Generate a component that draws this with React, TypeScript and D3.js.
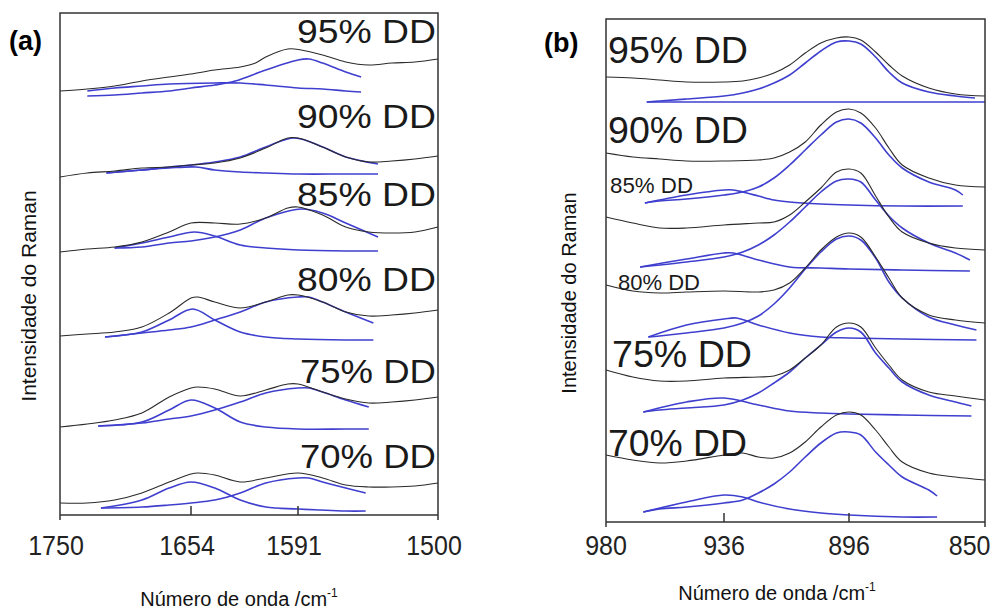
import React from "react";
import * as d3 from "d3";

type Pt = [number, number];

// ---------- tick values and labels ----------
const aTickValues = [1750, 1654, 1591, 1500];
const bTickValues = [980, 936, 896, 850];
const seriesNames = ["95% DD", "90% DD", "85% DD", "80% DD", "75% DD", "70% DD"];
const xTitle = "Número de onda /cm";
const xTitleSup = "-1";
const yTitle = "Intensidade do Raman";

// ---------- panel (a): measured spectra (black) and fitted bands (blue) ----------
const aBlack95: Pt[] = [[1750,42.4],[1730,42.6],[1710,42.9],[1690,43.4],[1670,43.8],[1654,44.1],[1640,44.5],[1625,44.8],[1616,45.2],[1610,45.8],[1597,46.6],[1589,46.5],[1575,46.0],[1560,45.3],[1545,45.0],[1530,45.2],[1515,45.3],[1500,45.6]];
const aFitA95: Pt[] = [[1730,41.9],[1710,42.0],[1690,42.2],[1670,42.4],[1654,42.7],[1640,43.0],[1628,43.4],[1610,44.5],[1591,45.5],[1584,45.6],[1575,45.2],[1560,44.3],[1550,43.8]];
const aFitB95: Pt[] = [[1730,42.4],[1710,42.7],[1690,42.9],[1670,43.1],[1640,43.2],[1625,43.2],[1610,43.0],[1591,42.7],[1575,42.6],[1560,42.4],[1550,42.3]];

const aBlack90: Pt[] = [[1750,33.8],[1730,34.2],[1710,34.4],[1690,34.7],[1670,34.8],[1654,35.0],[1640,35.2],[1625,35.7],[1610,36.7],[1597,37.7],[1591,37.7],[1575,36.8],[1560,35.8],[1545,35.3],[1530,35.4],[1515,35.6],[1500,35.9]];
const aFitA90: Pt[] = [[1716,34.2],[1690,34.5],[1670,34.8],[1654,35.0],[1640,35.3],[1625,35.8],[1610,36.8],[1593,37.7],[1575,36.8],[1560,35.8],[1539,35.1]];
const aFitB90: Pt[] = [[1716,34.2],[1690,34.5],[1670,34.7],[1651,34.8],[1640,34.5],[1625,34.3],[1610,34.2],[1591,34.1],[1560,34.1],[1539,34.1]];

const aBlack85: Pt[] = [[1750,26.3],[1730,26.6],[1710,26.8],[1690,27.3],[1670,28.3],[1654,29.2],[1640,29.2],[1625,29.1],[1610,29.7],[1597,30.7],[1591,30.8],[1575,30.0],[1560,28.8],[1545,28.3],[1530,28.2],[1515,28.3],[1500,28.8]];
const aFitA85: Pt[] = [[1710,26.7],[1690,26.8],[1670,27.2],[1654,27.4],[1640,27.8],[1625,28.5],[1610,29.7],[1589,30.6],[1575,30.2],[1560,29.2],[1539,27.8]];
const aFitB85: Pt[] = [[1710,26.7],[1690,27.2],[1670,27.8],[1652,28.3],[1640,27.9],[1625,27.0],[1610,26.7],[1591,26.5],[1560,26.4],[1539,26.4]];

const aBlack80: Pt[] = [[1750,17.9],[1730,18.1],[1710,18.3],[1690,18.8],[1670,20.2],[1654,21.7],[1650,21.8],[1640,21.3],[1625,20.7],[1610,21.3],[1597,22.0],[1591,22.0],[1575,21.3],[1560,20.3],[1545,19.9],[1530,20.0],[1515,20.2],[1500,20.5]];
const aFitA80: Pt[] = [[1717,17.8],[1690,18.2],[1670,18.5],[1654,18.8],[1640,19.5],[1625,20.3],[1610,21.3],[1591,21.8],[1584,21.8],[1575,21.3],[1560,20.3],[1542,19.2]];
const aFitB80: Pt[] = [[1717,17.8],[1690,18.3],[1670,19.5],[1653,20.6],[1640,19.5],[1625,18.3],[1610,17.8],[1591,17.6],[1560,17.5],[1542,17.5]];

const aBlack75: Pt[] = [[1750,8.8],[1730,9.1],[1710,9.5],[1690,10.2],[1670,11.8],[1654,12.7],[1650,12.8],[1640,12.6],[1625,11.9],[1610,12.5],[1597,13.1],[1591,13.1],[1575,12.3],[1560,11.6],[1545,11.2],[1530,11.3],[1515,11.5],[1500,11.8]];
const aFitA75: Pt[] = [[1722,8.9],[1690,9.2],[1670,9.6],[1654,9.9],[1640,10.5],[1625,11.3],[1610,12.2],[1591,12.7],[1584,12.7],[1575,12.3],[1560,11.5],[1545,10.8]];
const aFitB75: Pt[] = [[1722,8.9],[1690,9.3],[1670,10.5],[1654,11.5],[1640,10.7],[1625,9.3],[1610,8.8],[1591,8.6],[1560,8.6],[1545,8.6]];

const aBlack70: Pt[] = [[1750,1.2],[1730,1.2],[1710,1.5],[1690,2.2],[1670,3.3],[1654,4.1],[1650,4.2],[1640,4.0],[1625,3.3],[1610,3.7],[1591,4.2],[1575,3.7],[1560,3.0],[1545,2.8],[1530,2.8],[1515,2.9],[1500,3.2]];
const aFitA70: Pt[] = [[1720,0.7],[1690,0.8],[1670,1.0],[1654,1.2],[1640,1.5],[1625,2.2],[1610,3.2],[1591,3.7],[1584,3.7],[1575,3.3],[1560,2.7],[1547,2.2]];
const aFitB70: Pt[] = [[1720,0.7],[1690,1.5],[1670,2.7],[1654,3.3],[1640,2.7],[1625,1.5],[1610,0.8],[1591,0.6],[1560,0.4],[1547,0.4]];

// ---------- panel (b) ----------
const bBlack95: Pt[] = [[980,44.5],[970,44.4],[960,44.2],[950,44.0],[936,44.0],[930,44.1],[925,44.4],[920,44.9],[915,45.7],[910,46.9],[905,47.9],[900,48.4],[896,48.5],[892,48.2],[887,47.0],[882.5,45.7],[878,44.6],[869,43.4],[860,42.8],[850,42.6]];
const bFitA95: Pt[] = [[964.8,42.0],[960,42.1],[950,42.3],[936,42.6],[930,42.9],[925,43.3],[920,43.9],[915,44.7],[910,45.9],[905,47.1],[900,48.0],[896,48.1],[892,47.8],[887,46.5],[882.5,45.0],[878,43.9],[869,43.0],[860,42.6],[853.4,42.4]];
const bFitB95: Pt[] = [[964.8,42.0],[850,42.0]];

const bBlack90: Pt[] = [[980,36.9],[970,36.5],[960,36.3],[950,36.1],[936,36.1],[925,36.2],[920,36.4],[915,37.0],[910,38.0],[905,39.7],[900,41.0],[896,41.3],[892,40.9],[887,39.4],[882.5,37.4],[878,35.7],[869,34.4],[860,33.7],[850,33.5]];
const bFitA90: Pt[] = [[965.5,31.9],[960,32.1],[950,32.3],[936,32.7],[930,33.0],[925,33.5],[920,34.4],[915,35.7],[910,37.2],[905,38.7],[900,40.0],[896,40.3],[892,39.9],[887,38.4],[882.5,36.7],[878,35.4],[869,34.0],[860,33.2],[857.5,32.7]];
const bFitB90: Pt[] = [[965.5,31.9],[950,32.7],[936,33.2],[933,33.2],[930,33.0],[925,32.6],[920,32.2],[915,32.0],[905,31.8],[896,31.7],[878,31.6],[857.5,31.6]];

const bBlack85: Pt[] = [[980,30.5],[970,29.9],[960,29.4],[950,29.4],[936,29.7],[925,29.9],[920,30.0],[915,30.7],[910,32.0],[905,33.4],[900,35.0],[896,35.3],[892,34.9],[887,32.6],[882.5,30.5],[878,29.0],[869,27.9],[860,27.4],[850,27.2]];
const bFitA85: Pt[] = [[967.3,25.5],[960,25.7],[950,26.0],[936,26.5],[930,27.0],[925,27.7],[920,28.7],[915,30.0],[910,31.5],[905,33.0],[900,34.1],[896,34.3],[892,34.0],[887,32.2],[882.5,30.6],[878,29.4],[869,27.9],[860,26.9],[855.1,26.2]];
const bFitB85: Pt[] = [[967.3,25.5],[950,26.3],[936,26.9],[933,26.9],[925,26.2],[915,25.5],[905,25.4],[896,25.3],[878,25.2],[855.1,25.1]];

const bBlack80: Pt[] = [[980,23.7],[970,23.1],[960,22.9],[950,23.0],[936,23.1],[925,23.0],[920,23.2],[915,23.9],[910,25.4],[905,27.2],[900,28.5],[896,28.9],[892,28.5],[887,26.5],[882.5,24.4],[878,22.4],[869,20.7],[860,20.2],[850,19.9]];
const bFitA80: Pt[] = [[964.2,18.5],[960,18.6],[950,18.9],[936,19.4],[930,19.9],[925,20.6],[920,21.8],[915,23.4],[910,25.3],[905,27.0],[900,28.3],[896,28.6],[892,28.2],[887,26.4],[882.5,24.0],[878,22.4],[869,20.5],[860,19.7],[852.9,19.2]];
const bFitB80: Pt[] = [[964.2,18.5],[950,19.7],[936,20.3],[932,20.4],[925,19.7],[915,18.9],[905,18.5],[896,18.4],[878,18.3],[852.9,18.2]];

const bBlack75: Pt[] = [[980,15.2],[970,14.5],[960,14.1],[950,14.1],[936,14.4],[925,14.5],[920,14.6],[915,15.2],[910,16.4],[905,17.7],[900,19.5],[896,19.9],[892,19.5],[887,17.4],[882.5,15.7],[878,14.2],[869,13.0],[860,12.6],[850,12.2]];
const bFitA75: Pt[] = [[966.1,11.0],[960,11.2],[950,11.4],[936,11.7],[930,12.2],[925,12.9],[920,13.9],[915,15.0],[910,16.4],[905,17.7],[900,19.0],[896,19.4],[892,19.0],[887,16.9],[882.5,15.4],[878,14.0],[869,12.7],[860,12.0],[854.6,11.6]];
const bFitB75: Pt[] = [[966.1,11.0],[950,12.0],[936,12.4],[925,11.7],[915,11.1],[905,10.9],[896,10.8],[878,10.7],[854.6,10.6]];

const bBlack70: Pt[] = [[980,6.7],[970,6.2],[960,5.9],[950,6.1],[936,6.7],[930,6.9],[925,6.5],[920,6.4],[915,6.9],[910,8.0],[905,9.5],[900,10.7],[896,11.0],[892,10.7],[887,9.2],[882.5,7.5],[878,6.0],[869,4.9],[860,4.5],[850,4.2]];
const bFitA70: Pt[] = [[966.1,1.0],[960,1.3],[950,1.5],[936,1.9],[930,2.2],[925,2.9],[920,3.8],[915,5.0],[910,6.5],[905,7.9],[900,8.9],[896,9.0],[892,8.7],[887,7.0],[882.5,5.7],[878,4.5],[869,3.2],[866.2,2.6]];
const bFitB70: Pt[] = [[966.1,1.0],[950,2.0],[936,2.7],[930,2.5],[925,2.0],[915,1.3],[905,0.9],[896,0.7],[878,0.5],[866.2,0.5]];

const aBlack = [aBlack95, aBlack90, aBlack85, aBlack80, aBlack75, aBlack70];
const aFits = [[aFitA95, aFitB95], [aFitA90, aFitB90], [aFitA85, aFitB85], [aFitA80, aFitB80], [aFitA75, aFitB75], [aFitA70, aFitB70]];
const bBlack = [bBlack95, bBlack90, bBlack85, bBlack80, bBlack75, bBlack70];
const bFits = [[bFitA95, bFitB95], [bFitA90, bFitB90], [bFitA85, bFitB85], [bFitA80, bFitB80], [bFitA75, bFitB75], [bFitA70, bFitB70]];

// ---------- layout (positions/sizes/styles) ----------
const FONT = "'Liberation Sans', Arial, Helvetica, sans-serif";
const BLACK = "#2a2a2a";
const BLUE = "#3f3fcf";

interface LabelPos { x: number; v: number; fs: number; len: number; anchor: "start" | "end" }

interface PanelLayout {
  tag: string; tagX: number; tagY: number;
  tickRange: number[]; tickDx: number; top: number; bottom: number; yMax: number;
  labels: LabelPos[];
  xTitleX: number; xTitleY: number;
  yTitleX: number; yTitleY: number; yTitleFs: number;
}

const layoutA: PanelLayout = {
  tag: "(a)", tagX: 9, tagY: 50,
  tickRange: [60, 191, 298, 438], tickDx: -4, top: 13, bottom: 515, yMax: 50.2,
  labels: [
    { x: 436, v: 47.2, fs: 33, len: 139, anchor: "end" },
    { x: 436, v: 38.7, fs: 33, len: 139, anchor: "end" },
    { x: 436, v: 30.9, fs: 33, len: 139, anchor: "end" },
    { x: 436, v: 22.4, fs: 33, len: 139, anchor: "end" },
    { x: 436, v: 13.2, fs: 33, len: 136, anchor: "end" },
    { x: 436, v: 4.7, fs: 33, len: 136, anchor: "end" },
  ],
  xTitleX: 239, xTitleY: 606,
  yTitleX: 36, yTitleY: 296, yTitleFs: 21,
};

const layoutB: PanelLayout = {
  tag: "(b)", tagX: 544, tagY: 52,
  tickRange: [606, 724, 849, 985], tickDx: 0, top: 19, bottom: 522, yMax: 50.3,
  labels: [
    { x: 608, v: 45.9, fs: 36, len: 140, anchor: "start" },
    { x: 608, v: 37.9, fs: 36, len: 140, anchor: "start" },
    { x: 610, v: 32.9, fs: 22, len: 83, anchor: "start" },
    { x: 618, v: 23.2, fs: 22, len: 82, anchor: "start" },
    { x: 612, v: 15.5, fs: 36, len: 140, anchor: "start" },
    { x: 608, v: 6.6, fs: 36, len: 139, anchor: "start" },
  ],
  xTitleX: 777, xTitleY: 600,
  yTitleX: 576, yTitleY: 293, yTitleFs: 20,
};

function Panel({ ticks, black, fits, L }: { ticks: number[]; black: Pt[][]; fits: Pt[][][]; L: PanelLayout }) {
  const x = d3.scaleLinear().domain(ticks).range(L.tickRange);
  const y = d3.scaleLinear().domain([0, L.yMax]).range([L.bottom, L.top]);
  const line = d3
    .line<Pt>()
    .x((d) => x(d[0]))
    .y((d) => y(d[1]))
    .curve(d3.curveCatmullRom.alpha(0.5));
  const [x0, x1] = [x(ticks[0]), x(ticks[ticks.length - 1])];
  const tickFs = 25;
  return (
    <g>
      {fits.map((pair, i) =>
        pair.map((f, j) => (
          <path key={`f${i}-${j}`} d={line(f) || ""} fill="none" stroke={BLUE} strokeWidth={1.6} />
        ))
      )}
      {black.map((s, i) => (
        <path key={`b${i}`} d={line(s) || ""} fill="none" stroke={BLACK} strokeWidth={1.1} />
      ))}
      <path
        d={`M${x0},${L.bottom + 5}V${L.top}H${x1}V${L.bottom + 5}M${x0},${L.bottom}H${x1}`}
        fill="none"
        stroke="#333"
        strokeWidth={1.5}
      />
      {ticks.slice(1, -1).map((t) => (
        <line key={t} x1={x(t)} x2={x(t)} y1={L.bottom} y2={L.bottom - 9} stroke="#333" strokeWidth={1.5} />
      ))}
      {ticks.map((t) => {
        const w = String(t).length * 13.6;
        const cx = Math.min(x(t) + L.tickDx, 994 - 4 - w / 2);
        return (
          <text key={`l${t}`} x={cx} y={555} textAnchor="middle" fontFamily={FONT} fontSize={tickFs} fill="#222"
            transform={`translate(0,${555}) scale(1,1.08) translate(0,${-555})`}>
            {t}
          </text>
        );
      })}
      {L.labels.map((p, i) => (
        <text key={`s${i}`} x={p.x} y={y(p.v)} textAnchor={p.anchor} fontFamily={FONT} fontSize={p.fs}
          textLength={p.len} lengthAdjust="spacingAndGlyphs" fill="#1a1a1a">
          {seriesNames[i]}
        </text>
      ))}
      <text x={L.xTitleX} y={L.xTitleY} textAnchor="middle" fontFamily={FONT} fontSize={20} fill="#111">
        {xTitle}
        <tspan fontSize={12} dy={-9}>{xTitleSup}</tspan>
      </text>
      <text transform={`translate(${L.yTitleX},${L.yTitleY}) rotate(-90)`} textAnchor="middle" fontFamily={FONT}
        fontSize={L.yTitleFs} fill="#111">
        {yTitle}
      </text>
      <text x={L.tagX} y={L.tagY} fontFamily={FONT} fontSize={27} fontWeight="bold" fill="#000">
        {L.tag}
      </text>
    </g>
  );
}

export default function App() {
  return (
    <svg width={994} height={613} viewBox="0 0 994 613"
      style={{ position: "absolute", left: 0, top: 0, background: "#fff" }}>
      <rect x={0} y={0} width={994} height={613} fill="#fff" />
      <Panel ticks={aTickValues} black={aBlack} fits={aFits} L={layoutA} />
      <Panel ticks={bTickValues} black={bBlack} fits={bFits} L={layoutB} />
    </svg>
  );
}
